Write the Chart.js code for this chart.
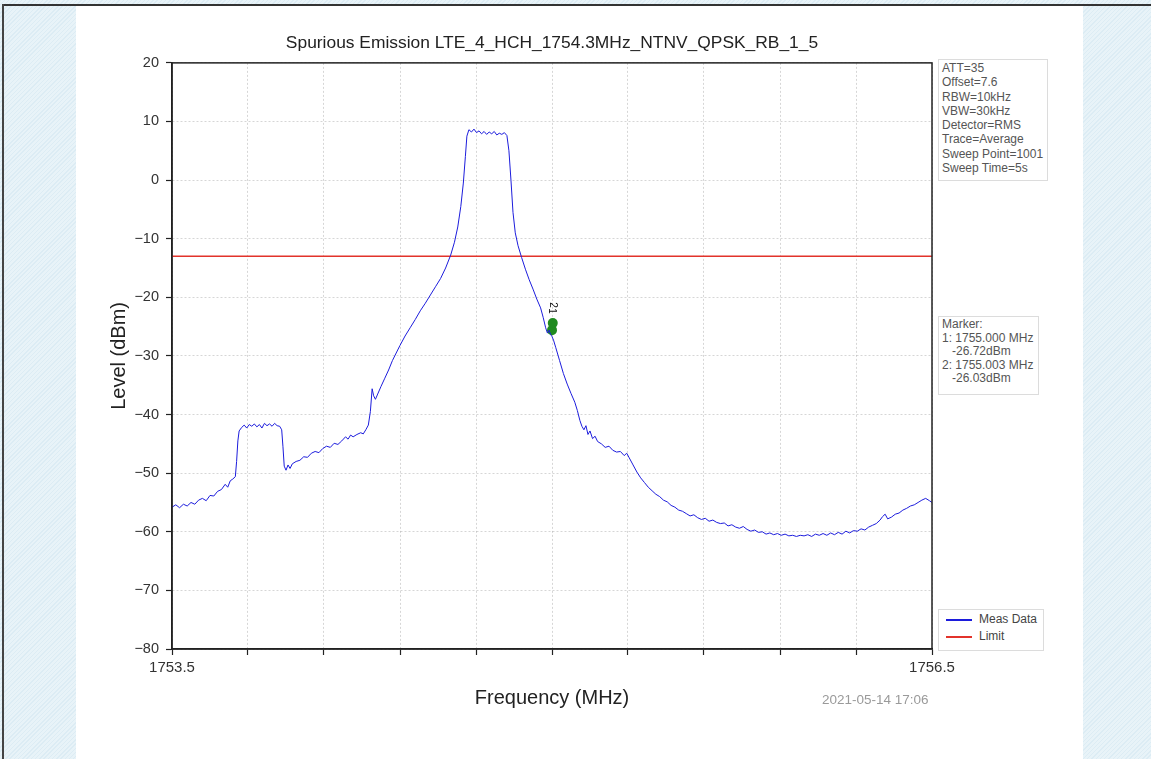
<!DOCTYPE html>
<html>
<head>
<meta charset="utf-8">
<script src="https://cdn.jsdelivr.net/npm/chart.js@4/dist/chart.umd.min.js"></script>
<style>
  html, body { margin: 0; padding: 0; }
  body { width: 1151px; height: 759px; position: relative; overflow: hidden;
         font-family: "Liberation Sans", Arial, sans-serif;
         background: repeating-linear-gradient(135deg, #dcecf4 0 1px, #e8f3f8 1px 3px); }
  #frameTop { position: absolute; left: 3px; top: 4px; width: 1148px; height: 2px; background: #333; }
  #frameLeft { position: absolute; left: 2px; top: 4px; width: 2px; height: 755px; background: #444; }
  #panel { position: absolute; left: 76px; top: 6px; width: 1007px; height: 753px; background: #fff; }
  #c { position: absolute; left: 0; top: 0; }
  .box { position: absolute; border: 1px solid #dcdcdc; background: #fff; color: #555;
         font-size: 12px; line-height: 14.3px; padding: 1px 3px; white-space: pre; }
  #info { left: 938px; top: 59px; width: 102px; height: 118px; }
  #markers { left: 938px; top: 316px; width: 93px; height: 75px; line-height: 13.6px; }
  #legend { left: 938px; top: 609px; width: 98px; height: 38px; color: #444; }
  #legend .row { position: relative; height: 17px; line-height: 17px; padding-left: 37px; }
  #legend .sw { position: absolute; left: 4px; top: 8px; width: 26px; height: 1.5px; }
  #stamp { position: absolute; left: 822px; top: 692px; font-size: 13.5px; color: #9a9a9a; }
</style>
</head>
<body>
<div id="frameTop"></div>
<div id="frameLeft"></div>
<div id="panel"></div>
<canvas id="c" width="1151" height="759"></canvas>
<div class="box" id="info"></div>
<div class="box" id="markers"></div>
<div class="box" id="legend"></div>
<div id="stamp">2021-05-14 17:06</div>
<script>
const titleText = "Spurious Emission LTE_4_HCH_1754.3MHz_NTNV_QPSK_RB_1_5";

const freqMHz = [
  1753.500, 1753.515, 1753.530, 1753.545, 1753.560, 1753.575, 1753.590, 1753.605, 1753.620, 1753.635,
  1753.650, 1753.665, 1753.680, 1753.695, 1753.710, 1753.720, 1753.730, 1753.740, 1753.750, 1753.755,
  1753.760, 1753.765, 1753.775, 1753.785, 1753.795, 1753.805, 1753.815, 1753.825, 1753.835, 1753.845,
  1753.855, 1753.865, 1753.875, 1753.885, 1753.895, 1753.905, 1753.915, 1753.925, 1753.933, 1753.938,
  1753.943, 1753.950, 1753.958, 1753.966, 1753.975, 1753.990, 1754.005, 1754.020, 1754.035, 1754.050,
  1754.065, 1754.080, 1754.095, 1754.110, 1754.125, 1754.140, 1754.155, 1754.170, 1754.185, 1754.195,
  1754.205, 1754.215, 1754.230, 1754.245, 1754.255, 1754.265, 1754.275, 1754.283, 1754.290, 1754.296,
  1754.303, 1754.312, 1754.325, 1754.340, 1754.355, 1754.370, 1754.385, 1754.400, 1754.420, 1754.440,
  1754.460, 1754.480, 1754.500, 1754.520, 1754.540, 1754.560, 1754.580, 1754.600, 1754.615, 1754.628,
  1754.640, 1754.650, 1754.658, 1754.664, 1754.672, 1754.682, 1754.692, 1754.702, 1754.712, 1754.722,
  1754.732, 1754.742, 1754.752, 1754.762, 1754.772, 1754.782, 1754.792, 1754.802, 1754.812, 1754.822,
  1754.830, 1754.838, 1754.846, 1754.855, 1754.866, 1754.880, 1754.895, 1754.910, 1754.925, 1754.940,
  1754.955, 1754.965, 1754.975, 1754.982, 1754.988, 1754.994, 1755.000, 1755.006, 1755.015, 1755.030,
  1755.045, 1755.060, 1755.075, 1755.090, 1755.100, 1755.110, 1755.118, 1755.126, 1755.134, 1755.142,
  1755.150, 1755.160, 1755.170, 1755.180, 1755.195, 1755.210, 1755.225, 1755.240, 1755.255, 1755.270,
  1755.285, 1755.295, 1755.305, 1755.320, 1755.335, 1755.350, 1755.365, 1755.380, 1755.395, 1755.410,
  1755.425, 1755.440, 1755.455, 1755.470, 1755.485, 1755.500, 1755.515, 1755.530, 1755.545, 1755.560,
  1755.575, 1755.590, 1755.605, 1755.620, 1755.635, 1755.650, 1755.665, 1755.680, 1755.695, 1755.710,
  1755.725, 1755.740, 1755.755, 1755.770, 1755.785, 1755.800, 1755.815, 1755.830, 1755.845, 1755.860,
  1755.875, 1755.890, 1755.905, 1755.920, 1755.935, 1755.950, 1755.965, 1755.980, 1755.995, 1756.010,
  1756.025, 1756.040, 1756.055, 1756.070, 1756.085, 1756.100, 1756.115, 1756.130, 1756.145, 1756.160,
  1756.175, 1756.190, 1756.205, 1756.220, 1756.235, 1756.250, 1756.265, 1756.280, 1756.295, 1756.305,
  1756.315, 1756.325, 1756.340, 1756.355, 1756.370, 1756.385, 1756.400, 1756.415, 1756.430, 1756.445,
  1756.460, 1756.475, 1756.490, 1756.500
];
const levelDbm = [
  -55.8, -55.4, -55.9, -55.3, -55.6, -55.0, -55.3, -54.6, -54.3, -54.7,
  -53.8, -53.9, -53.1, -52.8, -51.9, -52.4, -51.3, -51.0, -50.6, -48.0,
  -44.5, -42.8, -42.2, -41.8, -42.3, -41.7, -42.0, -41.6, -42.1, -41.7,
  -42.3, -41.5, -41.9, -41.6, -42.0, -41.5, -41.9, -42.0, -42.6, -45.5,
  -48.8, -49.5, -48.6, -49.2, -48.4, -48.0, -47.8, -47.2, -47.3, -46.6,
  -46.3, -46.5, -45.8, -45.4, -45.6, -44.9, -45.1, -44.5, -43.8, -44.2,
  -43.5, -43.8, -43.4, -43.1, -43.3, -42.6, -41.8, -39.5, -35.6, -36.8,
  -37.4, -36.5, -35.2, -33.8, -32.4, -30.8, -29.5, -28.2, -26.6, -25.2,
  -23.8, -22.3, -21.0, -19.6, -18.2, -16.8, -15.0, -12.8, -10.6, -8.0,
  -4.5, -0.5, 4.0, 7.5, 8.6, 8.2, 8.7, 8.1, 8.4, 7.9,
  8.3, 7.8, 8.2, 7.9, 8.3, 7.7, 8.0, 7.8, 8.1, 7.6,
  5.0, 0.0, -5.5, -9.0, -11.2, -13.2, -15.2, -17.0, -18.6, -20.3,
  -21.8, -23.4, -25.2, -26.1, -25.6, -26.3, -26.7, -27.3, -28.6, -30.8,
  -33.0, -34.8, -36.4, -37.9, -39.3, -41.0, -42.0, -42.6, -41.9, -43.4,
  -42.8, -44.1, -43.7, -44.6, -45.0, -45.6, -45.4, -46.1, -46.4, -46.3,
  -47.0, -46.6, -47.4, -48.6, -49.8, -50.8, -51.6, -52.4, -53.0, -53.6,
  -54.0, -54.6, -54.9, -55.5, -55.8, -56.3, -56.5, -56.9, -57.3, -57.1,
  -57.6, -57.9, -57.7, -58.2, -58.0, -58.4, -58.6, -58.5, -59.0, -58.8,
  -59.2, -59.4, -59.1, -59.6, -59.9, -59.7, -60.1, -60.0, -60.4, -60.2,
  -60.5, -60.3, -60.6, -60.4, -60.7, -60.6, -60.8, -60.6, -60.7, -60.5,
  -60.8, -60.4, -60.6, -60.3, -60.6, -60.2, -60.5, -60.1, -60.4, -59.9,
  -60.2, -59.8, -59.9, -59.5, -59.7, -59.2, -58.9, -58.6, -58.0, -57.4,
  -57.0, -57.8, -57.5, -57.0, -56.8, -56.3, -56.0, -55.6, -55.4, -55.0,
  -54.6, -54.3, -54.7, -55.0
];

const limitFreq = [1753.5, 1756.5];
const limitLevel = [-13, -13];

// markers as drawn on the trace
const markerFreq = [1755.000, 1755.003];
const markerLevel = [-25.6, -24.4];
const markerNames = ["1", "2"];

const xTicks = [1753.5, 1753.8, 1754.1, 1754.4, 1754.7, 1755.0, 1755.3, 1755.6, 1755.9, 1756.2, 1756.5];
const yTicks = [-80, -70, -60, -50, -40, -30, -20, -10, 0, 10, 20];

const infoLines = ["ATT=35", "Offset=7.6", "RBW=10kHz", "VBW=30kHz", "Detector=RMS", "Trace=Average", "Sweep Point=1001", "Sweep Time=5s"];
const markerLines = ["Marker:", "1: 1755.000 MHz", "   -26.72dBm", "2: 1755.003 MHz", "   -26.03dBm"];

const FONT = '"Liberation Sans", Arial, sans-serif';
const zip = (xs, ys) => xs.map((x, i) => ({ x: x, y: ys[i] }));

// plot frame (all four spines)
const framePlugin = {
  id: "frame",
  afterDraw(chart) {
    const a = chart.chartArea, ctx = chart.ctx;
    ctx.save();
    ctx.strokeStyle = "#222";
    ctx.lineWidth = 1.5;
    ctx.strokeRect(a.left, a.top, a.right - a.left, a.bottom - a.top);
    ctx.restore();
  }
};

// rotated marker numbers above the green markers
const markerLabelPlugin = {
  id: "markerLabels",
  afterDatasetsDraw(chart) {
    const meta = chart.getDatasetMeta(2);
    const ctx = chart.ctx;
    ctx.save();
    ctx.fillStyle = "#111";
    ctx.font = "10px " + FONT;
    ctx.textAlign = "center";
    ctx.textBaseline = "middle";
    const top = Math.min(...meta.data.map((p) => p.y));
    meta.data.forEach((p, i) => {
      ctx.save();
      ctx.translate(p.x, top - 12 - i * 6);
      ctx.rotate(Math.PI / 2);
      ctx.fillText(markerNames[i], 0, 0);
      ctx.restore();
    });
    ctx.restore();
  }
};

const chart = new Chart(document.getElementById("c").getContext("2d"), {
  type: "scatter",
  data: {
    datasets: [
      { label: "Meas Data", data: zip(freqMHz, levelDbm), showLine: true, borderColor: "#1c1cdc",
        borderWidth: 1, pointRadius: 0, tension: 0 },
      { label: "Limit", data: zip(limitFreq, limitLevel), showLine: true, borderColor: "#e2332b",
        borderWidth: 1.5, pointRadius: 0 },
      { label: "Marker", data: zip(markerFreq, markerLevel), showLine: false, pointRadius: 5,
        backgroundColor: "#1f8a1f", borderColor: "#1f8a1f", borderWidth: 0 }
    ]
  },
  options: {
    responsive: false,
    animation: false,
    events: [],
    layout: { padding: { left: 95, right: 219, top: 0, bottom: 10 } },
    plugins: {
      legend: { display: false },
      tooltip: { enabled: false },
      title: { display: true, fullSize: false, text: titleText, color: "#222",
               font: { family: FONT, size: 17.4, weight: "normal" }, padding: { top: 33, bottom: 9 } }
    },
    scales: {
      x: {
        type: "linear", min: 1753.5, max: 1756.5,
        afterBuildTicks: (s) => { s.ticks = xTicks.map((v) => ({ value: v })); },
        afterFit: (s) => { s.height = 100; },
        ticks: { autoSkip: false, maxRotation: 0, padding: 4, color: "#333",
                 font: { family: FONT, size: 15 },
                 callback: (v, i, arr) => (i === 0 || i === arr.length - 1) ? Number(v).toFixed(1) : "" },
        grid: { color: "rgba(0,0,0,0.16)", tickColor: "#222", tickLength: 6, tickBorderDash: [], tickWidth: 1.2 },
        border: { color: "#222", width: 1.5, dash: [2, 2] },
        title: { display: true, text: "Frequency (MHz)", color: "#222",
                 font: { family: FONT, size: 20 }, padding: { top: 0, bottom: 39 } }
      },
      y: {
        min: -80, max: 20,
        afterBuildTicks: (s) => { s.ticks = yTicks.map((v) => ({ value: v })); },
        afterFit: (s) => { s.width = 77; },
        ticks: { padding: 7, color: "#333", font: { family: FONT, size: 14.5 },
                 callback: (v) => (v < 0 ? "\u2212" + Math.abs(v) : String(v)) },
        grid: { color: "rgba(0,0,0,0.16)", tickColor: "#222", tickLength: 6, tickBorderDash: [], tickWidth: 1.2 },
        border: { color: "#222", width: 1.5, dash: [2, 2] },
        title: { display: true, text: "Level (dBm)", color: "#222",
                 font: { family: FONT, size: 20 }, padding: { top: 12, bottom: 0 } }
      }
    }
  },
  plugins: [framePlugin, markerLabelPlugin]
});

// text boxes on the right of the plot
document.getElementById("info").textContent = infoLines.join("\n");
document.getElementById("markers").textContent = markerLines.join("\n");
const legendEl = document.getElementById("legend");
chart.data.datasets.slice(0, 2).forEach((ds) => {
  const row = document.createElement("div");
  row.className = "row";
  const sw = document.createElement("span");
  sw.className = "sw";
  sw.style.background = ds.borderColor;
  row.appendChild(sw);
  row.appendChild(document.createTextNode(ds.label));
  legendEl.appendChild(row);
});
</script>
</body>
</html>
